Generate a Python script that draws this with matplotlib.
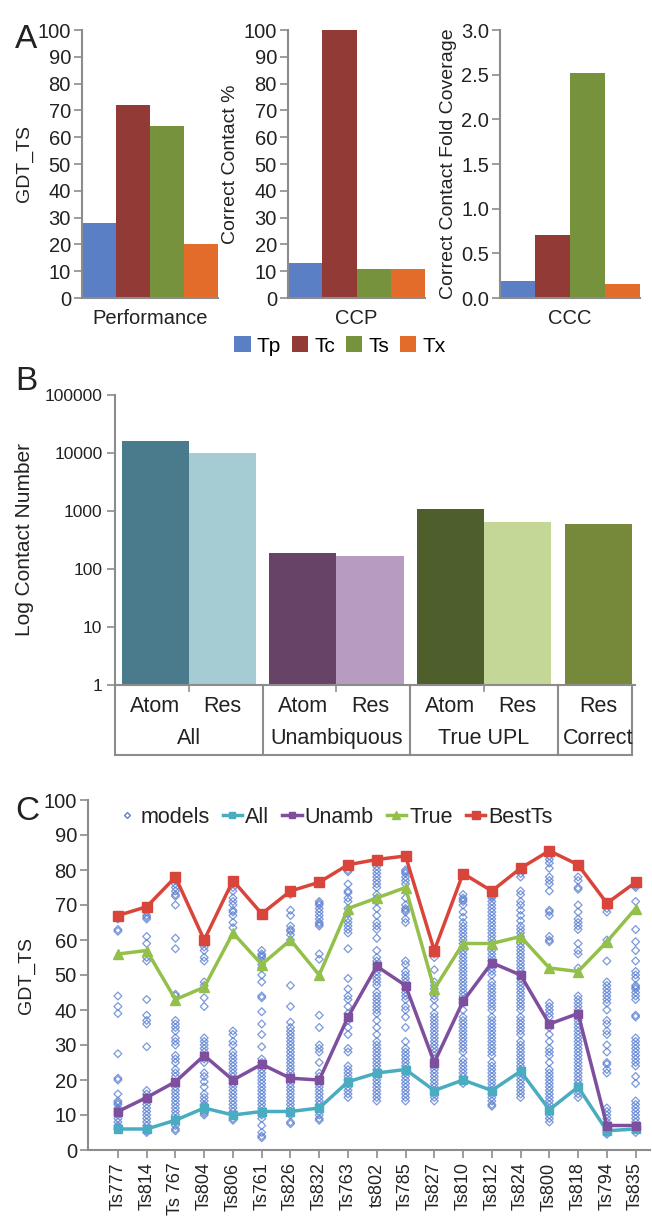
import matplotlib
matplotlib.use("Agg")
import matplotlib.pyplot as plt
import numpy as np
from matplotlib.ticker import FuncFormatter
from matplotlib.lines import Line2D
from matplotlib.transforms import blended_transform_factory

plt.rcParams['font.family'] = ['Liberation Sans', 'DejaVu Sans']

# ---- panel A data
a_series = ["Tp", "Tc", "Ts", "Tx"]
a_colors = ["#5b7fc4", "#923a36", "#76923c", "#e46c2a"]
perf_vals = [28, 72, 64, 20]
ccp_vals = [13, 100, 11, 11]
ccc_vals = [0.19, 0.70, 2.52, 0.16]

# ---- panel B data
b_row1 = ["Atom", "Res", "Atom", "Res", "Atom", "Res", "Res"]
b_groups = ["All", "Unambiquous", "True UPL", "Correct"]
b_group_size = [2, 2, 2, 1]
b_vals = [16000, 10000, 190, 165, 1100, 650, 600]
b_colors = ["#4a7b8c", "#a5cbd3", "#674368", "#b89cc0", "#4f5f2c", "#c5d796", "#76893a"]

# ---- panel C data
targets = ["Ts777", "Ts814", "Ts 767", "Ts804", "Ts806", "Ts761", "Ts826", "Ts832", "Ts763", "ts802",
           "Ts785", "Ts827", "Ts810", "Ts812", "Ts824", "Ts800", "Ts818", "Ts794", "Ts835"]
best_ts = [67, 69.5, 78, 60, 77, 67.5, 74, 76.5, 81.5, 83, 84, 57, 79, 74, 80.5, 85.5, 81.5, 70.5, 76.5]
true_upl = [56, 57, 43, 46.5, 62, 53, 60, 50, 69, 72, 75, 46, 59, 59, 61, 52, 51, 59.5, 69]
unamb = [11, 15, 19.5, 27, 20, 24.5, 20.5, 20, 38, 52.5, 47, 25, 42.5, 53.5, 50, 36, 39, 7, 7]
all_c = [6, 6, 8.5, 12, 10, 11, 11, 12, 19.5, 22, 23, 17, 20, 17, 22.5, 11.5, 18, 5.5, 6]

models = [
    [66, 63, 62.5, 44, 41, 39, 27.5, 20.5, 20, 16, 14, 13.5, 13, 12, 11.5, 11, 10.5, 10, 9, 8, 7, 6.5, 6, 6],
    [69, 68, 67, 66.5, 66, 61, 59, 55, 54, 43, 38.5, 37, 36, 29.5, 17, 16, 15, 14, 13, 12, 11, 10, 9, 8, 7, 6, 5.5, 5],
    [78, 77, 76, 75, 74, 73, 72.5, 70, 60.5, 57.5, 44.5, 44, 37, 36, 35, 34, 32, 31, 30, 27, 26, 25, 23, 22, 21,
     19, 18, 17, 16, 15, 14, 13, 12, 11, 10, 9, 8, 7, 6, 5.5],
    [60, 59, 58, 57, 55, 54, 48, 47, 43.5, 41, 32, 31, 30, 29, 28, 27, 26, 25, 22, 21, 19.5, 18, 16, 15, 14, 13,
     12.5, 12, 11.5, 11, 10.5, 10],
    [76, 75, 74, 72, 71, 70, 68.5, 68, 67, 65, 63.5, 34, 33, 31, 30, 28, 27, 26, 25, 24, 23, 22, 21, 20, 19, 18,
     17, 16, 15, 14, 13, 12, 11, 10, 9, 8.5],
    [57, 56, 55.5, 55, 54, 53, 52, 50, 48, 44, 43.5, 39.5, 36, 33, 29.5, 26, 25, 24, 23, 22, 21, 20, 19, 18, 17,
     16, 15, 14, 13, 12, 11, 10.5, 10, 9, 7, 5, 4, 3.5],
    [74, 73, 68.5, 67, 64, 63, 62.5, 61.5, 60, 47, 41, 36.5, 35, 34, 33, 32, 31, 30, 29, 28, 27, 26, 25, 24, 23,
     22, 21, 20, 19, 18, 17, 16, 15, 14, 13, 12, 11, 10, 8, 7.5],
    [71, 70.5, 70, 69, 68, 67, 66, 65, 64.5, 64, 56, 54.5, 38.5, 35, 30, 29, 28, 25, 22, 21, 20, 19, 18, 17, 16,
     15, 14, 13, 12, 11, 10, 9, 8.5],
    [81, 80, 79.5, 76, 74, 73.5, 72, 71, 69, 67.5, 66, 65, 64, 63, 62, 57.5, 49, 46, 44, 43, 41, 39, 37, 35, 33,
     29, 28, 24, 23, 22, 21, 20, 19, 18, 17, 16, 15],
    [83, 82, 81, 80, 79, 78, 77, 76, 75, 73, 72, 71, 69, 67, 65, 64, 63, 60.5, 57, 55, 54, 53, 52, 51, 50, 49,
     48, 47, 45, 44, 43, 42, 41, 40, 39, 37, 35, 33, 31, 30, 29, 28, 27, 26, 25, 24, 23, 22, 21, 20, 19, 18, 17,
     16, 15, 14],
    [80, 79.5, 79, 78, 77, 76, 72, 70, 69, 68.5, 68, 66, 65, 54, 53, 51, 50, 49, 48, 47, 46, 45, 44, 43, 41, 40,
     38, 35, 31, 29, 28, 27, 26, 25, 24, 23, 22, 21, 20, 19, 18, 17, 16, 15, 14],
    [56, 55, 51.5, 48, 47, 46, 45, 44, 43, 41, 39, 38, 37, 36, 35, 34, 33, 32, 31, 30, 29, 28, 27, 26, 25, 24,
     23, 22, 21, 20, 19, 18, 17, 16, 15, 14],
    [73, 72, 71.5, 71, 70, 68, 66.5, 65, 64, 63, 62, 61, 60, 59, 58, 57, 56, 55, 54, 53, 52, 51, 50, 49, 48, 47,
     46, 45, 44, 43, 42, 40, 38, 37, 36, 35, 34, 33, 32, 31, 30, 29, 28, 26, 25, 24, 23, 22, 21, 20, 19],
    [73, 72.5, 72, 71, 70, 69, 68, 67, 66, 65, 64, 63, 62, 61, 60, 59, 58, 57, 56, 55, 54, 53, 52, 51, 50, 48,
     47, 46, 45, 44, 43, 42, 41, 40, 38, 37, 36, 35, 34, 33, 32, 31, 30, 29, 28, 27, 25, 24, 23, 22, 21, 20, 19,
     18, 17, 16, 15, 14, 13, 12.5],
    [79, 78, 74, 73, 71, 70, 68.5, 67, 65.5, 64, 63, 62, 61, 60, 59, 58, 57, 56, 55, 54, 53, 52, 51, 50, 49, 48,
     47, 46, 45, 44, 43, 42, 41, 40, 38, 37, 36, 35, 34, 33, 31, 30, 29, 28, 27, 26, 25, 24, 23, 22, 21, 20, 19,
     18, 17, 16, 15],
    [85, 84, 83, 82, 80.5, 78, 77, 76, 74, 68.5, 68, 67, 61, 60, 59.5, 42, 41, 40, 39, 38, 36, 35, 33, 31, 29,
     28, 27, 25, 23, 22, 21, 20, 19, 18, 17, 16, 15, 14, 13, 12, 11, 10, 9, 8],
    [81.5, 81, 78, 77, 75, 74.5, 70, 68, 66, 65, 64, 63, 59, 57, 56, 52, 44, 43, 42, 41, 40, 39, 38, 37, 36, 35,
     34, 33, 32, 31, 30, 29, 28, 27, 26, 25, 24, 23, 22, 21, 20, 19, 18, 17, 16, 15],
    [70, 69, 68, 60, 59, 54, 48, 47, 46, 45, 44, 43, 42, 40, 37, 36, 34, 33, 30, 28, 25, 24.5, 23, 22, 12, 11,
     10, 9, 8, 7, 6, 5.5, 5, 4.5],
    [76, 75.5, 75, 71, 63, 59.5, 57, 54, 51, 50, 49, 47, 46.5, 46, 45, 44, 43, 38.5, 38, 32, 31, 30, 29, 28, 27,
     26, 25, 24, 21, 19, 14, 13, 12, 11, 10, 9, 8, 7, 6, 5],
]

W, H = 652, 1217
fig = plt.figure(figsize=(W / 100, H / 100), dpi=100)
spine_c = "#8c8c8c"
txt_c = "#222222"


def rect(l, r, t, b):
    return [l / W, 1 - b / H, (r - l) / W, (b - t) / H]


def style(ax):
    for s in ["top", "right"]:
        ax.spines[s].set_visible(False)
    for s in ["left", "bottom"]:
        ax.spines[s].set_color(spine_c)
        ax.spines[s].set_linewidth(1.5)
    ax.tick_params(axis="both", colors=spine_c, labelcolor=txt_c, width=1.2, length=6)


# ---------------- panel A
a_specs = [
    (rect(82, 218, 30, 298), perf_vals, "Performance", "GDT_TS", 100, 10, "{:.0f}"),
    (rect(288, 425, 30, 298), ccp_vals, "CCP", "Correct Contact %", 100, 10, "{:.0f}"),
    (rect(500, 640, 30, 298), ccc_vals, "CCC", "Correct Contact Fold Coverage", 3.0, 0.5, "{:.1f}"),
]
bars_a = None
for box, vals, xl, yl, top, step, fmt in a_specs:
    ax = fig.add_axes(box)
    b = ax.bar(np.arange(4), vals, width=1.0, color=a_colors)
    if bars_a is None:
        bars_a = b
    ax.set_xlim(-0.5, 3.5)
    ax.set_ylim(0, top)
    ax.set_yticks(np.arange(0, top + step / 2, step))
    ax.yaxis.set_major_formatter(FuncFormatter(lambda v, p, f=fmt: f.format(v)))
    ax.set_xticks([])
    ax.set_xlabel(xl, fontsize=14.5, labelpad=8, color=txt_c)
    ax.set_ylabel(yl, fontsize=14, labelpad=3, color=txt_c)
    style(ax)
    ax.tick_params(axis="y", labelsize=14.5, pad=2)

fig.legend(bars_a, a_series, loc="center", bbox_to_anchor=(340 / W, 1 - 346 / H), ncol=4,
           frameon=False, fontsize=15, handlelength=0.8, handleheight=0.8, handletextpad=0.3,
           columnspacing=0.5)
fig.text(15 / W, 1 - 40 / H, "A", fontsize=24, va="center", color=txt_c)

# ---------------- panel B
axb = fig.add_axes(rect(115, 635, 395, 685))
pos = []
x = 0.0
for n in b_group_size:
    for k in range(n):
        pos.append(x)
        x += 1.0
    x += 0.2
pos = np.array(pos)
axb.bar(pos, b_vals, width=1.0, color=b_colors)
axb.set_yscale("log")
axb.set_ylim(1, 100000)
axb.set_xlim(-0.6, 7.15)
axb.set_yticks([1, 10, 100, 1000, 10000, 100000])
axb.yaxis.set_major_formatter(FuncFormatter(lambda v, p: f"{v:g}"))
axb.yaxis.set_minor_locator(matplotlib.ticker.NullLocator())
axb.set_xticks([])
style(axb)
axb.tick_params(axis="y", labelsize=12.5, pad=3)
axb.set_ylabel("Log Contact Number", fontsize=15, labelpad=8, color=txt_c)

tr = blended_transform_factory(axb.transData, axb.transAxes)
box_bottom = -0.24
edges = [-0.6]
i0 = 0
for n in b_group_size:
    edges.append(pos[i0 + n - 1] + 0.6)
    i0 += n
edges[-1] = 7.1
for e in edges:
    axb.plot([e, e], [0, box_bottom], color=spine_c, lw=1.5, transform=tr, clip_on=False)
axb.plot([edges[0], edges[-1]], [box_bottom, box_bottom], color=spine_c, lw=1.5, transform=tr, clip_on=False)
for p, lab in zip(pos, b_row1):
    axb.text(p, -0.073, lab, transform=tr, ha="center", va="center", fontsize=15.5, color=txt_c)
i0 = 0
for g, n in zip(b_groups, b_group_size):
    c = pos[i0:i0 + n].mean()
    axb.text(c, -0.183, g, transform=tr, ha="center", va="center", fontsize=15.5, color=txt_c)
    if n == 2:
        axb.plot([c, c], [0, -0.02], color=spine_c, lw=1.2, transform=tr, clip_on=False)
    i0 += n
fig.text(15 / W, 1 - 382 / H, "B", fontsize=24, va="center", color=txt_c)

# ---------------- panel C
axc = fig.add_axes(rect(88, 650, 800, 1150))
xc = np.arange(len(targets))
for i, vals in enumerate(models):
    axc.scatter(np.full(len(vals), xc[i]), vals, marker="D", s=16, facecolors="none",
                edgecolors="#5b80d2", linewidths=0.9, alpha=0.8, zorder=2)
axc.plot(xc, all_c, color="#4aacc0", lw=2.5, marker="s", ms=6, zorder=3)
axc.plot(xc, unamb, color="#7e4f9e", lw=2.5, marker="s", ms=6, zorder=3)
axc.plot(xc, true_upl, color="#93c04a", lw=2.5, marker="^", ms=7, zorder=3)
axc.plot(xc, best_ts, color="#d9453b", lw=2.5, marker="s", ms=7, zorder=3)
axc.set_xlim(-1.04, 18.5)
axc.set_ylim(0, 100)
axc.set_yticks(np.arange(0, 101, 10))
axc.set_xticks(xc)
axc.set_xticklabels(targets, rotation=90, fontsize=13)
style(axc)
axc.tick_params(axis="y", labelsize=14.5, pad=2)
axc.tick_params(axis="x", pad=3)
axc.set_ylabel("GDT_TS", fontsize=14, labelpad=6, color=txt_c)

handles = [
    Line2D([], [], ls="none", marker="D", ms=3, mfc="none", mec="#5b80d2", mew=1),
    Line2D([], [], color="#4aacc0", lw=2.5, marker="s", ms=5),
    Line2D([], [], color="#7e4f9e", lw=2.5, marker="s", ms=5),
    Line2D([], [], color="#93c04a", lw=2.5, marker="^", ms=6),
    Line2D([], [], color="#d9453b", lw=2.5, marker="s", ms=6),
]
axc.legend(handles, ["models", "All", "Unamb", "True", "BestTs"], loc="center",
           bbox_to_anchor=(0.44, 0.95), ncol=5, frameon=False, fontsize=15.5,
           handlelength=0.9, handletextpad=0.15, columnspacing=0.6, labelcolor=txt_c)
fig.text(15 / W, 1 - 812 / H, "C", fontsize=24, va="center", color=txt_c)

fig.savefig("out.png", dpi=100)
